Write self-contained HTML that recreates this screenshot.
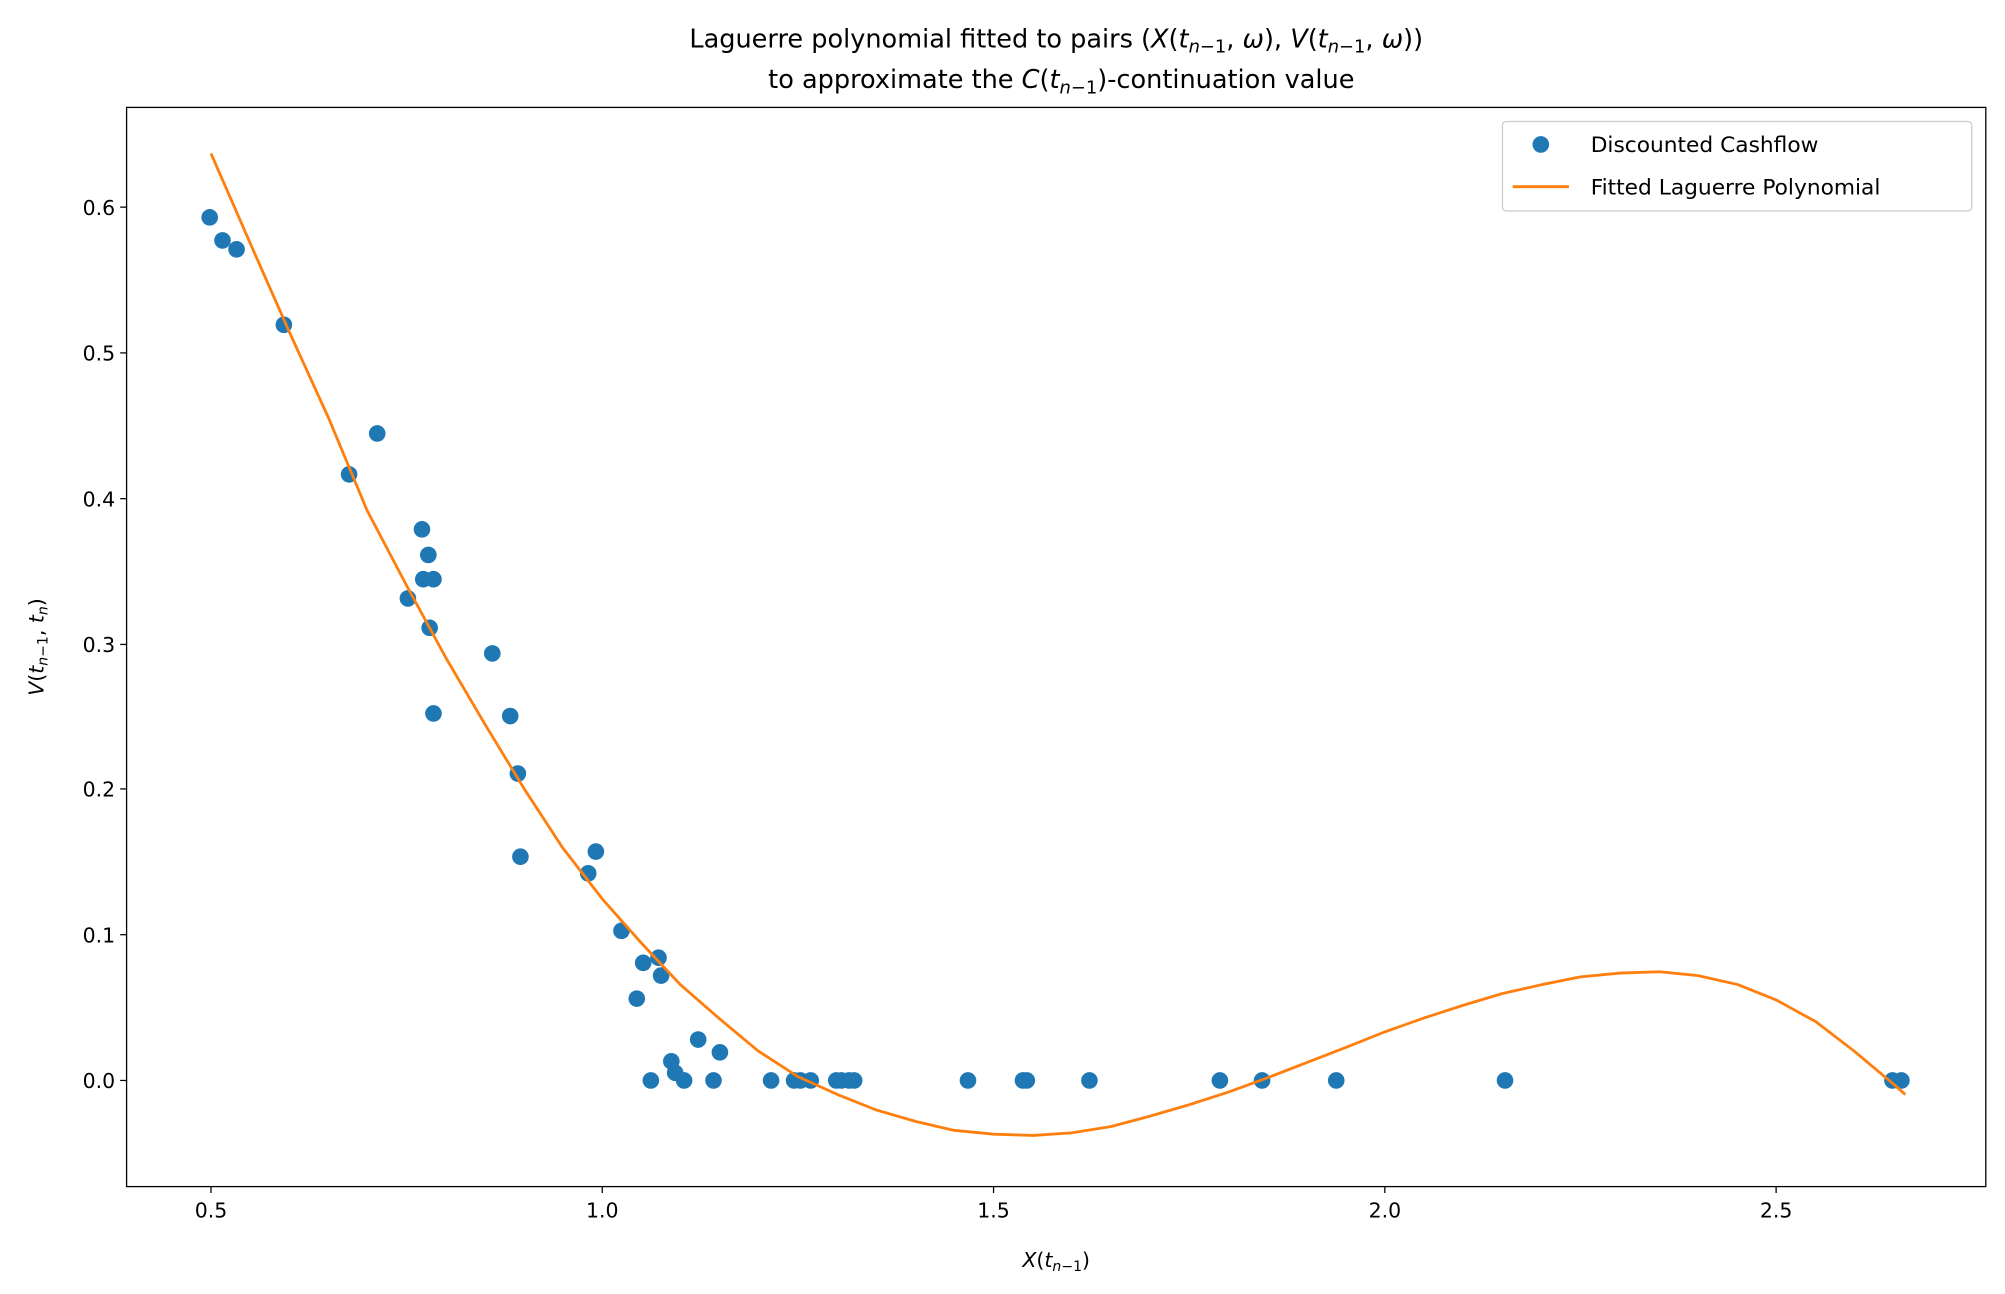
<!DOCTYPE html><html><head><style>html,body{margin:0;padding:0;background:#fff}svg{display:block}</style></head><body>
<svg width="2005" height="1294" viewBox="0 0 1568 1012" preserveAspectRatio="none" font-family="DejaVu Sans, Liberation Sans, sans-serif">
<rect width="1568" height="1012" fill="#fff"/>
<text x="826" y="37" font-size="20" text-anchor="middle">Laguerre polynomial fitted to pairs (<tspan font-style="italic">X</tspan>(<tspan font-style="italic">t</tspan><tspan font-size="14" dy="4" font-style="italic">n</tspan><tspan font-size="14">−1</tspan><tspan dy="-4">, </tspan><tspan font-style="italic">ω</tspan>), <tspan font-style="italic">V</tspan>(<tspan font-style="italic">t</tspan><tspan font-size="14" dy="4" font-style="italic">n</tspan><tspan font-size="14">−1</tspan><tspan dy="-4">, </tspan><tspan font-style="italic">ω</tspan>))</text>
<text x="830" y="69" font-size="20" text-anchor="middle">to approximate the <tspan font-style="italic">C</tspan>(<tspan font-style="italic">t</tspan><tspan font-size="14" dy="4" font-style="italic">n</tspan><tspan font-size="14">−1</tspan><tspan dy="-4">)-continuation value</tspan></text>
<g font-size="16" text-anchor="middle">
<line x1="165" y1="928" x2="165" y2="933" stroke="#000"/><text x="165" y="952">0.5</text>
<line x1="471" y1="928" x2="471" y2="933" stroke="#000"/><text x="471" y="952">1.0</text>
<line x1="777" y1="928" x2="777" y2="933" stroke="#000"/><text x="777" y="952">1.5</text>
<line x1="1083" y1="928" x2="1083" y2="933" stroke="#000"/><text x="1083" y="952">2.0</text>
<line x1="1389" y1="928" x2="1389" y2="933" stroke="#000"/><text x="1389" y="952">2.5</text>
</g>
<g font-size="16" text-anchor="end">
<line x1="94" y1="845" x2="99" y2="845" stroke="#000"/><text x="90" y="851">0.0</text>
<line x1="94" y1="731" x2="99" y2="731" stroke="#000"/><text x="90" y="737">0.1</text>
<line x1="94" y1="617" x2="99" y2="617" stroke="#000"/><text x="90" y="623">0.2</text>
<line x1="94" y1="504" x2="99" y2="504" stroke="#000"/><text x="90" y="510">0.3</text>
<line x1="94" y1="390" x2="99" y2="390" stroke="#000"/><text x="90" y="396">0.4</text>
<line x1="94" y1="276" x2="99" y2="276" stroke="#000"/><text x="90" y="282">0.5</text>
<line x1="94" y1="162" x2="99" y2="162" stroke="#000"/><text x="90" y="168">0.6</text>
</g>
<text x="826" y="991" font-size="16" text-anchor="middle"><tspan font-style="italic">X</tspan>(<tspan font-style="italic">t</tspan><tspan font-size="11" dy="3" font-style="italic">n</tspan><tspan font-size="11">−1</tspan><tspan dy="-3">)</tspan></text>
<text transform="translate(34,506) rotate(-90)" font-size="16" text-anchor="middle"><tspan font-style="italic">V</tspan>(<tspan font-style="italic">t</tspan><tspan font-size="11" dy="3" font-style="italic">n</tspan><tspan font-size="11">−1</tspan><tspan dy="-3">, </tspan><tspan font-style="italic">t</tspan><tspan font-size="11" dy="3" font-style="italic">n</tspan><tspan dy="-3">)</tspan></text>
<g fill="#1f77b4">
<circle cx="164" cy="170" r="6.5"/><circle cx="174" cy="188" r="6.5"/><circle cx="185" cy="195" r="6.5"/><circle cx="222" cy="254" r="6.5"/><circle cx="273" cy="371" r="6.5"/><circle cx="295" cy="339" r="6.5"/><circle cx="330" cy="414" r="6.5"/><circle cx="335" cy="434" r="6.5"/><circle cx="331" cy="453" r="6.5"/><circle cx="339" cy="453" r="6.5"/><circle cx="319" cy="468" r="6.5"/><circle cx="336" cy="491" r="6.5"/><circle cx="339" cy="558" r="6.5"/><circle cx="385" cy="511" r="6.5"/><circle cx="399" cy="560" r="6.5"/><circle cx="405" cy="605" r="6.5"/><circle cx="407" cy="670" r="6.5"/><circle cx="460" cy="683" r="6.5"/><circle cx="466" cy="666" r="6.5"/><circle cx="486" cy="728" r="6.5"/><circle cx="503" cy="753" r="6.5"/><circle cx="515" cy="749" r="6.5"/><circle cx="517" cy="763" r="6.5"/><circle cx="498" cy="781" r="6.5"/><circle cx="546" cy="813" r="6.5"/><circle cx="563" cy="823" r="6.5"/><circle cx="525" cy="830" r="6.5"/><circle cx="528" cy="839" r="6.5"/><circle cx="509" cy="845" r="6.5"/><circle cx="535" cy="845" r="6.5"/><circle cx="558" cy="845" r="6.5"/><circle cx="603" cy="845" r="6.5"/><circle cx="621" cy="845" r="6.5"/><circle cx="626" cy="845" r="6.5"/><circle cx="634" cy="845" r="6.5"/><circle cx="654" cy="845" r="6.5"/><circle cx="658" cy="845" r="6.5"/><circle cx="664" cy="845" r="6.5"/><circle cx="668" cy="845" r="6.5"/><circle cx="757" cy="845" r="6.5"/><circle cx="800" cy="845" r="6.5"/><circle cx="803" cy="845" r="6.5"/><circle cx="852" cy="845" r="6.5"/><circle cx="954" cy="845" r="6.5"/><circle cx="987" cy="845" r="6.5"/><circle cx="1045" cy="845" r="6.5"/><circle cx="1177" cy="845" r="6.5"/><circle cx="1480" cy="845" r="6.5"/><circle cx="1487" cy="845" r="6.5"/>
</g>
<polyline fill="none" stroke="#ff7f0e" stroke-width="2.2" stroke-linejoin="round" points="165,120 196,191 226,259 257,327 287,399 318,458 349,515 379,566 410,617 440,663 471,703 502,738 532,770 563,797 593,822 624,842 655,856 685,868 716,877 746,884 777,887 808,888 838,886 869,881 899,873 930,864 961,854 991,843 1022,831 1053,819 1083,807 1114,796 1145,786 1175,777 1206,770 1236,764 1267,761 1298,760 1328,763 1359,770 1389,782 1420,799 1450,822 1481,848 1490,856"/>
<rect x="99" y="84" width="1454" height="844" fill="none" stroke="#000" stroke-width="1"/>
<rect x="1175" y="95" width="367" height="70" rx="3" fill="#fff" fill-opacity="0.8" stroke="#ccc"/>
<circle cx="1205" cy="113" r="6.5" fill="#1f77b4"/>
<line x1="1183" y1="146" x2="1227" y2="146" stroke="#ff7f0e" stroke-width="2.2"/>
<text x="1244" y="119" font-size="17">Discounted Cashflow</text>
<text x="1244" y="152" font-size="17">Fitted Laguerre Polynomial</text>
</svg></body></html>
